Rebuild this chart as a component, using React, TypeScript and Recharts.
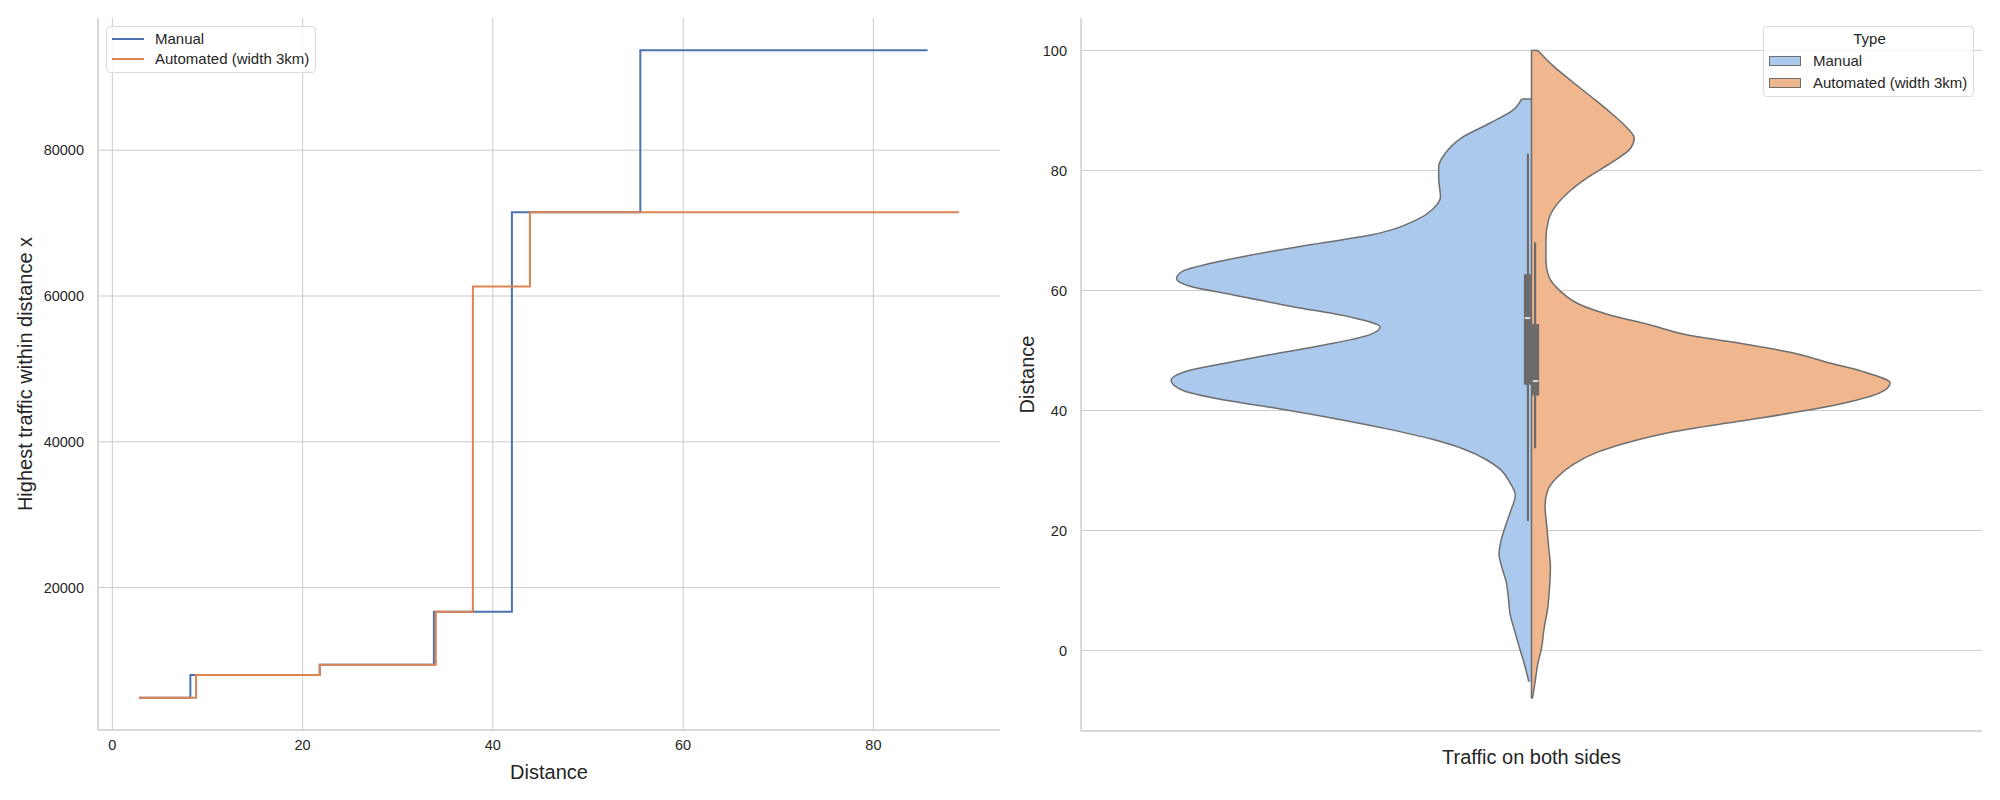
import React from "react";
import {
  LineChart,
  ComposedChart,
  Line,
  Area,
  XAxis,
  YAxis,
  CartesianGrid,
  Legend,
  ReferenceLine,
  ReferenceArea,
} from "recharts";

const FONT = '"Liberation Sans", Arial, sans-serif';
const TEXT = "#262626";
const GRID = "#cccccc";
const OUTLINE = "#6e6e6e";

// left panel: highest traffic within distance (step curves)
const manualDist = [2.8, 8.2, 21.8, 33.8, 42.0, 55.5, 85.7];
const manualTraffic = [4900, 8000, 9400, 16700, 71500, 93700, 93700];
const autoDist = [2.8, 8.8, 21.8, 34.0, 37.9, 43.9, 89.0];
const autoTraffic = [4900, 8000, 9400, 16700, 61300, 71500, 71500];
const distTicks = [0, 20, 40, 60, 80];
const trafficTicks = [20000, 40000, 60000, 80000];

// right panel: split violin, half widths in category units
const violinManualD = [
  -5.2, -2.2, 0.3, 2.9, 6.3, 9.3, 11.4, 13.9, 16.1, 18.2, 20.7, 23.3, 25.9, 28.0, 30.1, 31.8,
  33.5, 35.2, 36.9, 38.6, 40.3, 42.0, 43.3, 45.0, 46.7, 48.0, 49.2, 50.9, 52.6, 53.9, 55.6,
  57.3, 59.4, 60.7, 62.0, 63.3, 64.5, 65.8, 67.5, 69.2, 71.8, 73.5, 75.6, 78.6, 80.7, 82.8,
  85.4, 87.9, 90.0, 91.9,
];
const violinManualW = [
  0.003, 0.008, 0.013, 0.018, 0.024, 0.026, 0.028, 0.033, 0.036, 0.034, 0.029, 0.023, 0.018,
  0.024, 0.034, 0.05, 0.074, 0.11, 0.159, 0.216, 0.28, 0.35, 0.386, 0.4, 0.379, 0.336, 0.294,
  0.23, 0.18, 0.168, 0.202, 0.265, 0.336, 0.379, 0.394, 0.386, 0.357, 0.315, 0.251, 0.18,
  0.127, 0.11, 0.101, 0.103, 0.103, 0.096, 0.078, 0.046, 0.021, 0.011,
];
const violinAutoD = [
  -8.0, -5.2, -2.2, 0.3, 3.7, 7.1, 10.5, 13.9, 17.3, 20.7, 24.1, 26.7, 28.8, 31.0, 33.1, 34.8,
  36.5, 38.2, 39.9, 41.6, 42.9, 44.6, 46.3, 48.0, 49.7, 51.4, 52.6, 54.3, 56.0, 57.7, 59.9,
  62.4, 65.0, 68.4, 71.8, 74.3, 76.5, 78.6, 80.3, 82.0, 83.7, 85.4, 87.1, 89.6, 92.2, 94.7,
  97.3, 100.0,
];
const violinAutoW = [
  0.001, 0.004, 0.007, 0.011, 0.014, 0.018, 0.02, 0.021, 0.019, 0.017, 0.015, 0.018, 0.028,
  0.046, 0.074, 0.11, 0.159, 0.23, 0.301, 0.357, 0.386, 0.398, 0.372, 0.329, 0.287, 0.223,
  0.173, 0.131, 0.085, 0.053, 0.032, 0.019, 0.016, 0.016, 0.019, 0.028, 0.042, 0.06, 0.078,
  0.096, 0.11, 0.114, 0.106, 0.088, 0.067, 0.046, 0.025, 0.007,
];
// [lower whisker, q1, median, q3, upper whisker]
const manualBox = [21.6, 44.3, 55.4, 62.7, 82.8];
const autoBox = [33.7, 42.5, 44.9, 54.4, 68.0];
const violinTicks = [0, 20, 40, 60, 80, 100];

const SERIES = ["Manual", "Automated (width 3km)"];
const LINE_COLORS = ["#4c72b0", "#dd8452"];
const FILL_COLORS = ["#abc9ec", "#f0b78f"];

const manualSteps = manualDist.map((x, i) => ({ dist: x, traffic: manualTraffic[i] }));
const autoSteps = autoDist.map((x, i) => ({ dist: x, traffic: autoTraffic[i] }));

const allD = Array.from(new Set([...violinManualD, ...violinAutoD])).sort((a, b) => a - b);
const violinRows = allD.map((d) => {
  const i = violinManualD.indexOf(d);
  const j = violinAutoD.indexOf(d);
  return {
    d,
    manual: i >= 0 ? -violinManualW[i] : null,
    auto: j >= 0 ? violinAutoW[j] : null,
  };
});

const yTitle = (text: string, x: number) => (props: any) => {
  const vb = props.viewBox;
  const cy = vb.y + vb.height / 2;
  return (
    <text
      x={x}
      y={cy}
      transform={`rotate(-90, ${x}, ${cy})`}
      textAnchor="middle"
      dominantBaseline="central"
      fontSize={20}
      fill={TEXT}
    >
      {text}
    </text>
  );
};

const xTitle = (text: string, dy: number) => (props: any) => {
  const vb = props.viewBox;
  return (
    <text
      x={vb.x + vb.width / 2}
      y={vb.y + dy}
      textAnchor="middle"
      dominantBaseline="central"
      fontSize={20}
      fill={TEXT}
    >
      {text}
    </text>
  );
};

const tickStyle = { fontSize: 14.5, fill: TEXT };

function LineLegend() {
  return (
    <div
      style={{
        position: "relative",
        width: 210,
        height: 47,
        boxSizing: "border-box",
        border: "1px solid #dcdcdc",
        borderRadius: 4,
        background: "rgba(255,255,255,0.8)",
        fontSize: 15,
        color: TEXT,
      }}
    >
      {SERIES.map((name, i) => (
        <div key={name} style={{ position: "absolute", left: 0, top: 12 + i * 20, height: 0 }}>
          <div
            style={{
              position: "absolute",
              left: 5,
              top: -1,
              width: 32,
              height: 2,
              background: LINE_COLORS[i],
            }}
          />
          <div style={{ position: "absolute", left: 48, top: -9, whiteSpace: "nowrap", lineHeight: "18px" }}>
            {name}
          </div>
        </div>
      ))}
    </div>
  );
}

function ViolinLegend() {
  return (
    <div
      style={{
        position: "relative",
        width: 211,
        height: 71,
        boxSizing: "border-box",
        border: "1px solid #dcdcdc",
        borderRadius: 4,
        background: "rgba(255,255,255,0.8)",
        fontSize: 15,
        color: TEXT,
      }}
    >
      <div style={{ position: "absolute", left: 0, width: 211, top: 3, textAlign: "center", lineHeight: "18px" }}>
        Type
      </div>
      {SERIES.map((name, i) => (
        <div key={name} style={{ position: "absolute", left: 0, top: 34 + i * 21.6, height: 0 }}>
          <div
            style={{
              position: "absolute",
              left: 5,
              top: -5,
              width: 32,
              height: 10,
              boxSizing: "border-box",
              border: `1.5px solid ${OUTLINE}`,
              background: FILL_COLORS[i],
            }}
          />
          <div style={{ position: "absolute", left: 49, top: -9, whiteSpace: "nowrap", lineHeight: "18px" }}>
            {name}
          </div>
        </div>
      ))}
    </div>
  );
}

export default function App() {
  const boxes = [
    { stats: manualBox, sign: -1 },
    { stats: autoBox, sign: 1 },
  ];
  const halves = [
    { d: violinManualD, w: violinManualW, sign: -1 },
    { d: violinAutoD, w: violinAutoW, sign: 1 },
  ];
  const dMin = Math.min(violinManualD[0], violinAutoD[0]);
  const dMax = Math.max(violinManualD[violinManualD.length - 1], violinAutoD[violinAutoD.length - 1]);

  return (
    <div
      style={{
        position: "absolute",
        left: 0,
        top: 0,
        width: 2000,
        height: 800,
        background: "#ffffff",
        fontFamily: FONT,
      }}
    >
      <div style={{ position: "absolute", left: 0, top: 0 }}>
        <LineChart width={1000} height={800} margin={{ top: 18, right: 0, bottom: 0, left: 0 }}>
          <CartesianGrid stroke={GRID} strokeWidth={1} syncWithTicks />
          <XAxis
            dataKey="dist"
            type="number"
            domain={[-1.51, 93.31]}
            ticks={distTicks}
            allowDataOverflow
            height={70}
            tickLine={false}
            tickSize={0}
            tickMargin={10}
            axisLine={{ stroke: GRID, strokeWidth: 1.5 }}
            tick={tickStyle}
            label={{ content: xTitle("Distance", 42) }}
          />
          <YAxis
            type="number"
            domain={[460, 98140]}
            ticks={trafficTicks}
            allowDataOverflow
            width={98}
            tickLine={false}
            tickSize={0}
            tickMargin={14}
            axisLine={{ stroke: GRID, strokeWidth: 1.5 }}
            tick={tickStyle}
            label={{ content: yTitle("Highest traffic within distance x", 25) }}
          />
          <Line
            data={manualSteps}
            dataKey="traffic"
            name={SERIES[0]}
            type="stepAfter"
            stroke={LINE_COLORS[0]}
            strokeWidth={2}
            dot={false}
            isAnimationActive={false}
          />
          <Line
            data={autoSteps}
            dataKey="traffic"
            name={SERIES[1]}
            type="stepAfter"
            stroke={LINE_COLORS[1]}
            strokeWidth={2}
            dot={false}
            isAnimationActive={false}
          />
          <Legend
            layout="vertical"
            align="center"
            verticalAlign="middle"
            content={() => <LineLegend />}
            wrapperStyle={{ left: 106, top: 26, width: "auto", height: "auto" }}
          />
        </LineChart>
      </div>

      <div style={{ position: "absolute", left: 1000, top: 0 }}>
        <ComposedChart
          layout="vertical"
          width={1000}
          height={800}
          data={violinRows}
          margin={{ top: 18, right: 18, bottom: 0, left: 0 }}
        >
          <CartesianGrid stroke={GRID} strokeWidth={1} vertical={false} syncWithTicks />
          <XAxis
            type="number"
            domain={[-0.5, 0.5]}
            allowDataOverflow
            height={69}
            tick={false}
            tickLine={false}
            axisLine={{ stroke: GRID, strokeWidth: 1.5 }}
            label={{ content: xTitle("Traffic on both sides", 26) }}
          />
          <YAxis
            dataKey="d"
            type="number"
            reversed
            domain={[-13.4, 105.4]}
            ticks={violinTicks}
            allowDataOverflow
            width={81}
            tickLine={false}
            tickSize={0}
            tickMargin={14}
            axisLine={{ stroke: GRID, strokeWidth: 1.5 }}
            tick={tickStyle}
            label={{ content: yTitle("Distance", 27) }}
          />
          <Area
            dataKey="manual"
            name={SERIES[0]}
            type="monotone"
            connectNulls
            baseValue={0}
            fill={FILL_COLORS[0]}
            fillOpacity={1}
            stroke={OUTLINE}
            strokeWidth={1.5}
            isAnimationActive={false}
          />
          <Area
            dataKey="auto"
            name={SERIES[1]}
            type="monotone"
            connectNulls
            baseValue={0}
            fill={FILL_COLORS[1]}
            fillOpacity={1}
            stroke={OUTLINE}
            strokeWidth={1.5}
            isAnimationActive={false}
          />
          {halves.map((h, k) => (
            <ReferenceLine
              key={`top${k}`}
              segment={[
                { x: 0, y: h.d[h.d.length - 1] },
                { x: h.sign * h.w[h.w.length - 1], y: h.d[h.d.length - 1] },
              ]}
              stroke={OUTLINE}
              strokeWidth={1.5}
            />
          ))}
          <ReferenceLine
            segment={[
              { x: 0, y: dMin },
              { x: 0, y: dMax },
            ]}
            stroke={OUTLINE}
            strokeWidth={1.5}
          />
          {boxes.map((b, k) => (
            <ReferenceLine
              key={`wh${k}`}
              segment={[
                { x: b.sign * 0.004, y: b.stats[0] },
                { x: b.sign * 0.004, y: b.stats[4] },
              ]}
              stroke="#6b6b6b"
              strokeWidth={2.2}
            />
          ))}
          {boxes.map((b, k) => (
            <ReferenceArea
              key={`box${k}`}
              x1={b.sign * 0.0085}
              x2={0}
              y1={b.stats[1]}
              y2={b.stats[3]}
              fill="#6b6b6b"
              fillOpacity={1}
              stroke="none"
            />
          ))}
          {boxes.map((b, k) => (
            <ReferenceLine
              key={`med${k}`}
              segment={[
                { x: b.sign * 0.0075, y: b.stats[2] },
                { x: b.sign * 0.0015, y: b.stats[2] },
              ]}
              stroke="#ffffff"
              strokeWidth={1.5}
            />
          ))}
          <Legend
            layout="vertical"
            align="center"
            verticalAlign="middle"
            content={() => <ViolinLegend />}
            wrapperStyle={{ left: 763, top: 26, width: "auto", height: "auto" }}
          />
        </ComposedChart>
      </div>
    </div>
  );
}
